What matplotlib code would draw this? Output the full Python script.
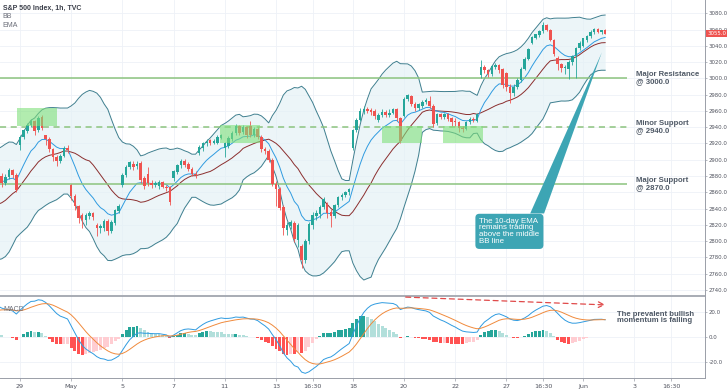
import matplotlib
matplotlib.use('Agg')
import numpy as np
import pandas as pd
from matplotlib import pyplot as plt
from matplotlib.patches import Rectangle, Polygon
from matplotlib.transforms import blended_transform_factory

# hourly S&P 500 bars, 7 per session; first 6 sessions are warm-up for the indicators
# Apr21 Apr22 Apr23 Apr24 Apr27 Apr28 | Apr29 ... Jun1
opens = [
    2784, 2770, 2752, 2745, 2760, 2748, 2735,
    2787, 2795, 2800, 2790, 2805, 2810, 2800,
    2810, 2830, 2838, 2842, 2835, 2820, 2805,
    2812, 2800, 2808, 2815, 2820, 2818, 2828,
    2855, 2865, 2872, 2878, 2882, 2880, 2876,
    2909, 2912, 2880, 2872, 2879, 2887, 2881,
    2918, 2928, 2935, 2943, 2947, 2936, 2952,  # Apr 29
    2930, 2926, 2913, 2903, 2899, 2905, 2915,  # Apr 30
    2869, 2855, 2843, 2832, 2826, 2831, 2834,  # May 1
    2820, 2816, 2816, 2825, 2813, 2822, 2837,  # May 4
    2869, 2881, 2891, 2895, 2892, 2896, 2877,  # May 5
    2883, 2872, 2869, 2868, 2873, 2867, 2866,  # May 6
    2878, 2885, 2893, 2899, 2895, 2889, 2883,  # May 7
    2908, 2914, 2920, 2924, 2921, 2921, 2927,  # May 8
    2915, 2917, 2926, 2933, 2941, 2934, 2940,  # May 11
    2941, 2931, 2938, 2928, 2913, 2911, 2900,  # May 12
    2870, 2864, 2842, 2814, 2818, 2822, 2801,  # May 13
    2794, 2777, 2800, 2820, 2831, 2833, 2842,  # May 14
    2846, 2836, 2831, 2844, 2854, 2857, 2860,  # May 15
    2914, 2936, 2949, 2959, 2962, 2961, 2960,  # May 18
    2949, 2955, 2959, 2955, 2958, 2962, 2951,  # May 19
    2954, 2975, 2978, 2969, 2963, 2966, 2971,  # May 20
    2972, 2966, 2945, 2956, 2953, 2956, 2951,  # May 21
    2948, 2946, 2939, 2938, 2946, 2950, 2948,  # May 22
    3004, 3014, 3010, 3005, 3014, 3016, 3011,  # May 26
    3006, 2990, 2982, 2990, 2998, 3012, 3024,  # May 27
    3044, 3050, 3053, 3058, 3066, 3060, 3047,  # May 28
    3025, 3018, 3013, 3012, 3020, 3027, 3037,  # May 29
    3040, 3047, 3052, 3057, 3061, 3057, 3059,  # Jun 1
]
highs = [
    2785, 2773, 2756, 2763, 2762, 2750, 2740,
    2797, 2804, 2802, 2807, 2815, 2812, 2803,
    2832, 2841, 2844, 2844, 2837, 2822, 2808,
    2815, 2810, 2818, 2823, 2824, 2830, 2842,
    2868, 2875, 2881, 2887, 2884, 2882, 2880,
    2921, 2915, 2884, 2882, 2890, 2889, 2884,
    2931, 2938, 2945, 2950, 2949, 2954, 2955,
    2931, 2928, 2915, 2906, 2907, 2917, 2918,
    2870, 2858, 2845, 2834, 2834, 2837, 2836,
    2822, 2821, 2827, 2827, 2826, 2840, 2846,
    2884, 2893, 2899, 2898, 2898, 2898, 2880,
    2891, 2875, 2874, 2875, 2874, 2869, 2868,
    2888, 2895, 2901, 2901, 2897, 2891, 2886,
    2918, 2922, 2925, 2926, 2925, 2930, 2932,
    2922, 2929, 2935, 2944, 2943, 2943, 2942,
    2947, 2940, 2940, 2930, 2916, 2913, 2902,
    2874, 2866, 2845, 2823, 2826, 2825, 2822,
    2797, 2803, 2823, 2836, 2838, 2845, 2854,
    2848, 2839, 2846, 2856, 2859, 2862, 2865,
    2938, 2951, 2964, 2966, 2965, 2964, 2962,
    2958, 2962, 2961, 2962, 2964, 2964, 2952,
    2977, 2981, 2980, 2971, 2970, 2973, 2976,
    2978, 2968, 2958, 2958, 2958, 2958, 2953,
    2951, 2948, 2942, 2948, 2952, 2953, 2957,
    3022, 3017, 3012, 3017, 3019, 3018, 3013,
    3008, 2993, 2993, 3000, 3014, 3026, 3037,
    3052, 3055, 3059, 3069, 3067, 3061, 3048,
    3027, 3019, 3016, 3022, 3029, 3039, 3046,
    3050, 3053, 3059, 3062, 3062, 3060, 3061,
]
lows = [
    2766, 2749, 2733, 2742, 2745, 2727, 2731,
    2775, 2790, 2786, 2788, 2802, 2797, 2795,
    2807, 2826, 2834, 2832, 2817, 2802, 2794,
    2791, 2797, 2805, 2812, 2814, 2815, 2826,
    2854, 2861, 2869, 2876, 2877, 2873, 2872,
    2905, 2878, 2866, 2869, 2876, 2878, 2860,
    2912, 2926, 2933, 2940, 2930, 2934, 2936,
    2918, 2910, 2898, 2892, 2896, 2903, 2908,
    2850, 2838, 2822, 2816, 2820, 2827, 2826,
    2806, 2810, 2812, 2808, 2810, 2820, 2835,
    2866, 2879, 2889, 2888, 2889, 2872, 2864,
    2868, 2865, 2866, 2864, 2865, 2862, 2845,
    2874, 2883, 2890, 2891, 2886, 2880, 2877,
    2906, 2911, 2917, 2918, 2919, 2919, 2925,
    2903, 2914, 2923, 2931, 2930, 2932, 2927,
    2928, 2928, 2925, 2910, 2907, 2897, 2868,
    2843, 2838, 2808, 2808, 2815, 2799, 2793,
    2767, 2773, 2797, 2815, 2826, 2829, 2839,
    2829, 2817, 2828, 2842, 2851, 2854, 2857,
    2912, 2934, 2947, 2956, 2957, 2955, 2950,
    2946, 2952, 2952, 2953, 2956, 2948, 2921,
    2953, 2972, 2966, 2960, 2961, 2963, 2969,
    2963, 2940, 2943, 2950, 2950, 2947, 2942,
    2942, 2934, 2934, 2936, 2944, 2946, 2946,
    3001, 3007, 3002, 3003, 3012, 3007, 2988,
    2985, 2970, 2978, 2987, 2996, 3010, 3022,
    3042, 3048, 3051, 3056, 3058, 3046, 3028,
    3010, 3008, 3005, 2999, 3016, 3000, 3035,
    3038, 3045, 3050, 3055, 3056, 3055, 3054,
]
closes = [
    2770, 2752, 2745, 2760, 2748, 2735, 2737,
    2795, 2800, 2790, 2805, 2810, 2800, 2799,
    2830, 2838, 2842, 2835, 2820, 2805, 2797,
    2800, 2808, 2815, 2820, 2818, 2828, 2837,
    2865, 2872, 2878, 2882, 2880, 2876, 2878,
    2912, 2880, 2872, 2879, 2887, 2881, 2863,
    2928, 2936, 2943, 2947, 2935, 2951, 2939,
    2926, 2913, 2903, 2899, 2905, 2915, 2912,
    2855, 2843, 2828, 2826, 2832, 2834, 2830,
    2816, 2818, 2825, 2813, 2824, 2838, 2843,
    2881, 2891, 2897, 2891, 2895, 2875, 2868,
    2872, 2869, 2871, 2873, 2867, 2865, 2848,
    2886, 2893, 2899, 2894, 2889, 2883, 2881,
    2916, 2920, 2922, 2921, 2923, 2928, 2930,
    2920, 2927, 2933, 2941, 2933, 2940, 2930,
    2931, 2938, 2928, 2913, 2911, 2900, 2870,
    2864, 2841, 2816, 2820, 2824, 2802, 2820,
    2777, 2800, 2821, 2832, 2834, 2842, 2852,
    2835, 2831, 2844, 2854, 2857, 2860, 2864,
    2936, 2949, 2960, 2962, 2960, 2959, 2954,
    2955, 2959, 2955, 2958, 2962, 2951, 2923,
    2975, 2979, 2969, 2963, 2968, 2971, 2973,
    2966, 2944, 2956, 2953, 2956, 2950, 2946,
    2946, 2939, 2938, 2946, 2950, 2949, 2956,
    3014, 3010, 3005, 3015, 3016, 3010, 2992,
    2990, 2982, 2990, 2998, 3012, 3024, 3036,
    3051, 3054, 3058, 3066, 3060, 3047, 3030,
    3018, 3013, 3014, 3020, 3027, 3037, 3044,
    3049, 3052, 3057, 3061, 3057, 3059, 3055,
]
warmup = 42

tick_pos = [0, 14, 28, 42, 56, 70, 80, 91, 105, 119, 133, 143, 154, 168, 178]
tick_labels = ['29', 'May', '5', '7', '11', '13', '16:30', '18', '20', '22', '27', '16:30', 'Jun', '3', '16:30']

levels = [3000, 2940, 2870]
level_text = ['Major Resistance\n@ 3000.0', 'Minor Support\n@ 2940.0', 'Major Support\n@ 2870.0']
level_style = ['-', (0, (4, 3)), '-']

# highlighted zones: (x0, x1, y0, y1)
zones = [(-0.9, 10.0, 2941, 2963), (54.7, 65.6, 2920.5, 2943),
         (98.9, 109.9, 2920.5, 2941), (115.7, 126.6, 2920.5, 2941)]

UP, DOWN = '#26A69A', '#EF5350'
TXT = '#4F5966'

close = pd.Series(closes, dtype=float)
ema10 = close.ewm(span=10, adjust=False).mean()
basis = close.rolling(20).mean()
dev = close.rolling(20).std(ddof=0)
upper, lower = basis + 2 * dev, basis - 2 * dev
macd = close.ewm(span=12, adjust=False).mean() - close.ewm(span=26, adjust=False).mean()
signal = macd.ewm(span=9, adjust=False).mean()
hist = macd - signal

x = np.arange(len(closes)) - warmup
xmin, xmax = -5.47, 187.3

fig = plt.figure(figsize=(7.28, 3.91), dpi=100)
ax = fig.add_axes([0, (391 - 295) / 391, 705 / 728, 295 / 391])
ax2 = fig.add_axes([0, (391 - 378) / 391, 705 / 728, 82 / 391], sharex=ax)

# ---- price panel
ax.fill_between(x, upper, lower, color='#E4F1F6', alpha=0.7, lw=0, zorder=1)
ax.plot(x, upper, color='#3F7F8F', lw=0.7, zorder=2)
ax.plot(x, lower, color='#3F7F8F', lw=0.7, zorder=2)
ax.plot(x, basis, color='#8B2E2E', lw=0.7, zorder=2)
ax.plot(x, ema10, color='#2F9BE0', lw=0.7, zorder=2)

for xi, o, h, l, c in zip(x, opens, highs, lows, closes):
    col = UP if c >= o else DOWN
    ax.vlines(xi, l, h, color=col, lw=0.6, zorder=3)
    ax.bar(xi, max(abs(c - o), 0.6), bottom=min(o, c), width=0.7, color=col, lw=0, zorder=3)

for lv, st in zip(levels, level_style):
    ax.hlines(lv, xmin, 166, color='#8CC47E', lw=1.1, linestyles=[st], zorder=2.5)
for lv, t in zip(levels, level_text):
    ax.text(168.5, lv, t, fontsize=5.6, fontweight='bold', color=TXT, va='center', ha='left',
            family='Liberation Sans', linespacing=0.95)

for x0, x1, y0, y1 in zones:
    ax.add_patch(Rectangle((x0, y0), x1 - x0, y1 - y0, color='#7FE07A', alpha=0.6, lw=0, zorder=4))

# callout about the EMA
ax.add_patch(Polygon([(139.5, 2834), (143.3, 2834), (159.1, 3032)], closed=True,
                     color='#3DA5B4', lw=0, zorder=5))
ax.text(125.6, 2812, 'The 10-day EMA\nremains trading\nabove the middle\nBB line', fontsize=5.7,
        color='white', ha='left', va='center', multialignment='left', family='Liberation Sans',
        linespacing=0.95, zorder=6,
        bbox=dict(boxstyle='round,pad=0.5,rounding_size=0.5', fc='#3DA5B4', ec='none'))

ax.set_ylim(2733.8, 3096.3)
ax.set_xlim(xmin, xmax)
ax.set_yticks(np.arange(2740, 3081, 20))
ax.yaxis.tick_right()
ax.yaxis.set_major_formatter(matplotlib.ticker.FormatStrFormatter('%.1f'))

tr = blended_transform_factory(ax.transAxes, ax.transData)
ax.text(1.003, closes[-1], '%.1f' % closes[-1], transform=tr, fontsize=3.9, color='white', va='center',
        ha='left', bbox=dict(boxstyle='square,pad=0.2', fc='#EF5350', ec='none'), zorder=10)

ax.text(0.004, 0.985, 'S&P 500 Index, 1h, TVC', transform=ax.transAxes, fontsize=5, fontweight='bold',
        color='#3B3F4A', va='top', family='Liberation Sans')
ax.text(0.004, 0.955, 'BB', transform=ax.transAxes, fontsize=5, color='#6A6D78', va='top', family='Liberation Sans')
ax.text(0.004, 0.927, 'EMA', transform=ax.transAxes, fontsize=5, color='#6A6D78', va='top', family='Liberation Sans')

# ---- MACD panel
hist_cols = []
for i, hv in enumerate(hist):
    prev = hist.iloc[i - 1] if i > 0 else hv
    if hv >= 0:
        hist_cols.append('#26A69A' if hv >= prev else '#B2DFDB')
    else:
        hist_cols.append('#FF5252' if hv < prev else '#FFCDD2')
ax2.bar(x, hist, width=0.8, color=hist_cols, lw=0, zorder=2)
ax2.plot(x, macd, color='#2F9BE0', lw=0.7, zorder=3)
ax2.plot(x, signal, color='#F08A3C', lw=0.7, zorder=3)

ax2.annotate('', xy=(160.8, 25.9), xytext=(104.7, 32.4),
             arrowprops=dict(arrowstyle='->', color='#E04A4A', lw=0.9, ls=(0, (4, 3))), zorder=5)
ax2.text(163.2, 15.8, 'The prevalent bullish\nmomentum is falling', fontsize=5.6, fontweight='bold',
         color=TXT, va='center', ha='left', family='Liberation Sans', linespacing=0.95)
ax2.text(0.005, 0.88, 'MACD', transform=ax2.transAxes, fontsize=5, color='#6A6D78', va='top',
         family='Liberation Sans')

ax2.set_ylim(-33.2, 33.2)
ax2.set_yticks([-20, 0, 20])
ax2.yaxis.tick_right()
ax2.yaxis.set_major_formatter(matplotlib.ticker.FormatStrFormatter('%.1f'))
ax2.set_xticks(tick_pos)
ax2.set_xticklabels(tick_labels)

for a in (ax, ax2):
    a.grid(True, color='#EEF1F7', lw=0.6, zorder=0)
    a.set_axisbelow(True)
    for s in ('left', 'top', 'bottom'):
        a.spines[s].set_visible(False)
    a.spines['right'].set_color('#9A9EA8')
    a.spines['right'].set_linewidth(0.7)
    a.tick_params(axis='y', labelsize=3.9, labelcolor='#50535E', length=1.5, width=0.5, color='#9A9EA8', pad=1.2)
    a.tick_params(axis='x', labelsize=4.6, labelcolor='#50535E', length=2, width=0.5, color='#9A9EA8', pad=2)
plt.setp(ax.get_xticklabels(), visible=False)
ax.tick_params(axis='x', length=0)
ax2.spines['top'].set_visible(True)
ax2.spines['top'].set_color('#9A9EA8')
ax2.spines['top'].set_linewidth(1.2)
ax2.spines['bottom'].set_visible(True)
ax2.spines['bottom'].set_color('#9A9EA8')
ax2.spines['bottom'].set_linewidth(0.7)

fig.savefig('out.png', dpi=100)
